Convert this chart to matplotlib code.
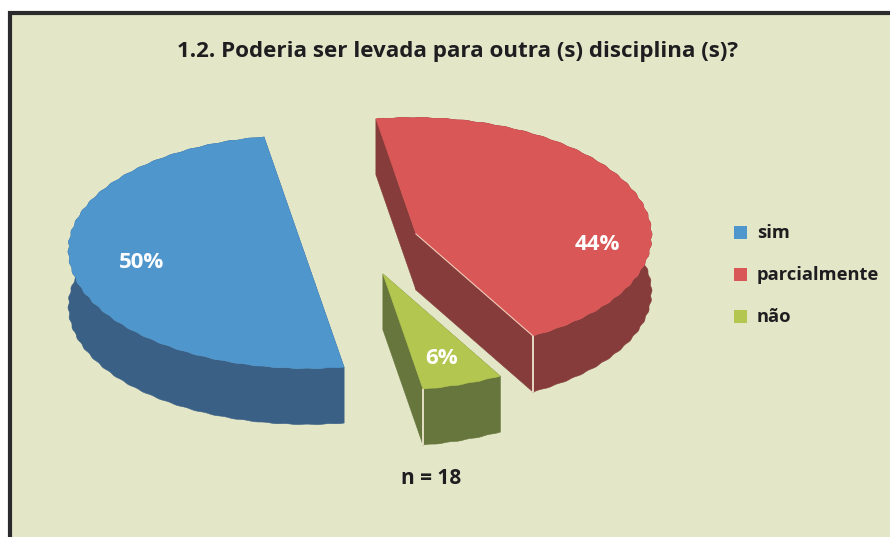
import numpy as np
import matplotlib
matplotlib.use("Agg")
import matplotlib.pyplot as plt
from matplotlib.patches import Polygon, Rectangle

title = "1.2. Poderia ser levada para outra (s) disciplina (s)?"
note = "n = 18"
# drawing order round the pie, clockwise from the top edge (counts out of n = 18)
categories = ["parcialmente", "não", "sim"]
values = [8, 1, 9]
legend_order = ["sim", "parcialmente", "não"]

top_colors = {"sim": "#4F96CD", "parcialmente": "#D95756", "não": "#B3C750"}
side_colors = {"sim": "#3A6086", "parcialmente": "#853C3B", "não": "#66763C"}
centers = {"sim": (304, 252), "parcialmente": (416, 234), "não": (383, 274)}
label_pos = {"sim": (142, 262), "parcialmente": (597, 244), "não": (442, 359)}
legend_y = {"sim": 232, "parcialmente": 274, "não": 316}

AX = np.array([-40.0, -115.0])   # screen vector of the "0 degree" radius
BX = np.array([-232.0, 18.0])    # screen vector of the "270 degree" radius
DEPTH = 56
BG = "#E3E6C7"
EDGE = "#2B2B2E"
FONT = ["Open Sans", "DejaVu Sans"]

fig = plt.figure(figsize=(8.90, 5.37), dpi=100, facecolor="white")
ax = fig.add_axes([0, 0, 1, 1])
ax.set_xlim(0, 890)
ax.set_ylim(537, 0)
ax.axis("off")

ax.add_patch(Rectangle((9.5, 12.5), 890, 540, facecolor=BG, edgecolor=EDGE, lw=3, zorder=1))


def point(center, theta, ripple=0.0):
    r = 1 + ripple * np.sin(70 * theta)
    return (np.array(center) + np.outer(r * np.cos(theta), AX)
            + np.outer(-r * np.sin(theta), BX))


def face(pts, color, z):
    ax.add_patch(Polygon(pts, closed=True, facecolor=color, edgecolor=color,
                         lw=0.4, zorder=z, joinstyle="round"))


down = np.array([0, DEPTH])
fractions = np.array(values) / sum(values)
edges = np.concatenate([[0], np.cumsum(fractions)]) * 2 * np.pi

for name, t0, t1 in zip(categories, edges[:-1], edges[1:]):
    c = np.array(centers[name], dtype=float)
    th = np.linspace(t0, t1, 600)
    arc = point(c, th, ripple=0.0025)
    top = top_colors[name]
    side = side_colors[name]
    for end in (arc[0], arc[-1]):
        face(np.array([c, end, end + down, c + down]), side, 3)
    face(np.vstack([arc, (arc + down)[::-1]]), side, 3)
    face(np.vstack([c, arc]), top, 4)

# light seams on the front corners
for name, theta in (("parcialmente", edges[1]), ("não", edges[2])):
    p = point(centers[name], np.array([theta]))[0]
    ax.plot([p[0], p[0]], [p[1], p[1] + DEPTH], color="#EFE6CF", lw=1.3, zorder=5, solid_capstyle="butt")
c = np.array(centers["parcialmente"], dtype=float)
p = point(c, np.array([edges[1]]))[0]
ax.plot([c[0], p[0]], [c[1], p[1]], color="#EFC9B8", lw=0.8, zorder=5)

for name, f in zip(categories, fractions):
    x, y = label_pos[name]
    ax.text(x, y, f"{round(f * 100)}%", color="white", fontsize=16, fontweight="bold", family=FONT,
            ha="center", va="center", zorder=6)

ax.text(457.5, 52, title, fontsize=16.1, fontweight="bold", family=FONT, color="#1E1E20",
        ha="center", va="center", zorder=6)
ax.text(431, 478, note, fontsize=15, fontweight="bold", family=FONT, color="#1E1E20",
        ha="center", va="center", zorder=6)

for name in legend_order:
    y = legend_y[name]
    ax.add_patch(Rectangle((734, y - 6.5), 13, 13, facecolor=top_colors[name], edgecolor="none", zorder=5))
    ax.text(757, y + 1, name, fontsize=13.2, fontweight="bold", family=FONT, color="#1E1E20",
            ha="left", va="center", zorder=6)

fig.savefig("out.png", dpi=100, facecolor="white")
